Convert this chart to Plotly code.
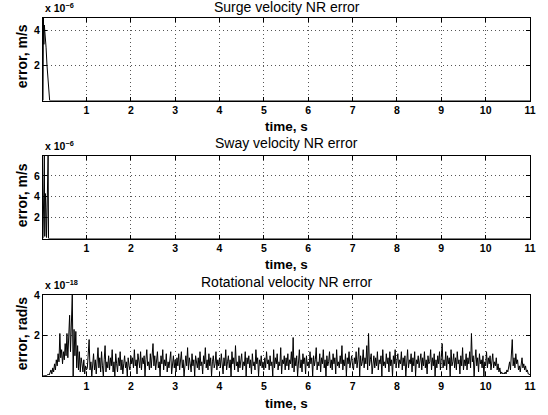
import numpy as np
import plotly.graph_objects as go

W, H = 548, 415
ML, MR, MT, MB = 43, 14, 18, 39
PW, PH = W - ML - MR, H - MT - MB

def px_x(p):
    return (p - ML) / PW

def px_y(p):
    return (H - MB - p) / PH

# ---------------- data ----------------
# Surge velocity NR error (units of 1e-6 m/s)
t1 = [0.02, 0.03, 0.04, 0.05, 0.07, 0.09, 0.11, 0.13, 0.15, 0.17, 11.0]
e1 = [0.0, 4.7, 3.2, 4.3, 3.8, 3.0, 2.0, 1.1, 0.4, 0.0, 0.0]

# Sway velocity NR error (units of 1e-6 m/s)
t2 = [0.02, 0.05, 0.06, 0.075, 0.085, 0.10, 0.135, 0.145, 11.0]
e2 = [0.0, 7.9, 0.2, 4.3, 3.0, 0.1, 7.9, 0.0, 0.0]

# Rotational velocity NR error (units of 1e-18 rad/s), sampled every 0.02 s
dt3 = 0.02
e3 = [
    0, 0, 0, 0, 0.02, 0.05, 0.1, 0.05, 0.15, 0.3, 0.1, 0.4, 0.2, 0.6, 0.3, 0.8, 0.5, 1.1, 0.7, 2.1, 0.9, 1.3, 0.6, 1.2, 0.8,
    1.6, 1.0, 2.1, 0.9, 1.8, 3.0, 1.2, 2.2, 4.0, 0.0, 2.3, 1.0, 2.2, 0.4, 1.5, 0.3, 1.2, 0.2, 0.9, 0.6, 0.2, 0.8, 0.1, 0.5, 0.3,
    0.4, 0.9, 1.8, 0.3, 0.7, 0.0, 0.5, 1.1, 0.3, 0.8, 0.1, 0.6, 1.4, 0.4, 0.9, 0.2, 1.2, 0.5, 0.0, 0.8, 1.5, 0.2, 0.7, 0.4, 1.0,
    0.3, 0.9, 0.5, 1.3, 0.2, 0.7, 0.0, 1.1, 0.6, 0.2, 0.9, 0.5, 1.2, 0.3, 0.8, 0.1, 0.6, 1.0, 0.4, 0.7, 0.0, 0.9, 0.5, 0.3, 1.0,
    0.6, 0.9, 0.4, 1.3, 0.5, 0.8, 0.1, 1.1, 0.7, 0.4, 1.2, 0.3, 0.9, 0.6, 1.0, 0.0, 0.8, 1.3, 0.5, 0.7, 0.3, 1.1, 0.4, 0.9, 1.6,
    0.5, 1.0, 0.3, 0.8, 1.2, 0.4, 0.7, 0.0, 1.0, 0.6, 1.3, 0.3, 0.8, 0.5, 1.1, 0.2, 0.7, 0.4, 0.9, 1.2, 0.1, 0.6, 1.0, 0.4, 0.8,
    0.2, 0.9, 0.5, 1.1, 0.3, 0.7, 1.2, 0.4, 0.8, 0.0, 0.6, 1.0, 0.5, 1.4, 0.3, 0.9, 0.6, 0.2, 1.1, 0.5, 0.8, 0.0, 1.0, 0.6, 0.4,
    0.9, 0.3, 1.2, 0.5, 0.7, 0.1, 1.0, 0.6, 1.4, 0.4, 0.8, 0.3, 1.1, 0.5, 0.9, 0.0, 0.7, 1.0, 0.4, 0.6, 1.2, 0.3, 0.8, 0.5, 0.9,
    0.4, 1.1, 0.6, 0.1, 0.9, 0.5, 1.3, 0.3, 0.7, 1.0, 0.4, 0.8, 0.0, 1.2, 0.6, 0.9, 0.3, 1.5, 0.5, 0.7, 0.2, 1.0, 0.4, 0.8, 1.1,
    0.3, 0.7, 0.5, 1.2, 0.0, 0.9, 0.6, 1.0, 0.4, 0.8, 0.1, 1.1, 0.5, 0.7, 0.3, 1.3, 0.6, 0.9, 0.0, 0.8, 0.5, 1.0, 0.4, 0.7, 0.3,
    0.9, 0.4, 1.2, 0.6, 0.8, 0.3, 1.0, 0.5, 0.7, 0.0, 1.3, 0.4, 0.9, 0.6, 1.1, 0.3, 0.7, 0.5, 1.4, 0.1, 0.8, 0.6, 1.0, 0.3, 0.9,
    0.5, 1.1, 0.3, 0.8, 0.6, 1.2, 0.4, 1.9, 0.2, 0.9, 0.5, 1.0, 0.0, 0.7, 1.3, 0.4, 0.8, 0.2, 1.1, 0.6, 0.9, 0.1, 1.0, 0.5, 0.7,
    0.4, 1.2, 0.6, 0.9, 0.0, 1.0, 0.5, 0.8, 1.4, 0.3, 0.7, 0.5, 1.1, 0.2, 0.9, 0.6, 1.3, 0.4, 0.8, 0.0, 1.0, 0.5, 0.7, 1.2, 0.4,
    0.8, 0.3, 1.1, 0.6, 0.9, 0.1, 1.3, 0.5, 0.7, 0.4, 1.0, 0.6, 1.5, 0.3, 0.8, 0.5, 1.1, 0.0, 0.9, 0.6, 1.2, 0.4, 0.7, 1.0, 0.5,
    0.3, 0.9, 0.6, 1.2, 0.4, 0.8, 1.4, 0.0, 1.0, 0.5, 0.7, 1.3, 0.4, 0.9, 0.6, 1.5, 0.3, 2.1, 0.5, 0.8, 1.1, 0.1, 0.7, 1.0, 0.4,
    0.9, 0.5, 1.2, 0.3, 0.8, 0.6, 1.0, 0.0, 1.3, 0.5, 0.7, 0.4, 1.1, 0.6, 0.9, 0.2, 1.2, 0.5, 0.8, 0.0, 1.0, 0.6, 1.3, 0.4, 0.7,
    1.1, 0.4, 0.8, 0.6, 1.2, 0.3, 0.9, 0.5, 1.0, 0.0, 0.7, 1.3, 0.4, 0.8, 0.6, 1.1, 0.2, 0.9, 0.5, 1.2, 0.0, 0.8, 0.6, 1.0, 0.4,
    0.7, 1.1, 0.3, 0.9, 0.5, 1.2, 0.4, 0.8, 0.1, 1.0, 0.6, 0.7, 1.3, 0.3, 0.9, 0.5, 1.1, 0.0, 0.8, 0.4, 1.0, 0.6, 1.2, 0.3, 0.9,
    1.6, 0.4, 0.8, 0.5, 1.2, 0.3, 1.0, 0.6, 0.9, 0.0, 1.3, 0.5, 0.7, 1.1, 0.4, 0.9, 0.3, 1.2, 0.6, 0.8, 0.1, 1.0, 0.5, 1.4, 0.3,
    0.8, 0.5, 1.1, 0.3, 0.9, 0.6, 1.2, 0.4, 2.1, 0.7, 1.0, 0.0, 0.8, 1.3, 0.5, 0.9, 0.2, 1.1, 0.6, 0.8, 0.4, 1.0, 0.0, 0.7, 0.5,
    1.2, 0.4, 0.9, 0.6, 1.0, 0.3, 0.8, 1.1, 0.4, 0.7, 0.5, 0.9, 0.3, 0.6, 0.2, 0.4, 0.1, 0.2, 0.1, 0.15, 0.1, 0.2, 0.1, 0.3, 0.2,
    0.4, 0.7, 0.3, 1.0, 1.8, 0.5, 0.9, 0.4, 1.1, 0.6, 0.8, 0.3, 0.5, 0.2, 0.7, 0.9, 0.4, 0.6, 0.3, 0.5, 0.2, 0.3, 0.1, 0.1, 0.05,
]
t3 = [dt3 * (i + 1) for i in range(len(e3))]

titles = ["Surge velocity NR error", "Sway velocity NR error", "Rotational velocity NR error"]
ylabels = ["error, m/s", "error, m/s", "error, rad/s"]
xlabel = "time, s"
exps = [-6, -6, -18]
yticks = [[2, 4], [2, 4, 6], [2, 4]]
ymax = [4.7, 7.9, 4.0]
xticks = list(range(1, 12))

# pixel boxes of the three axes (top, bottom)
boxes = [(18, 100.5), (156, 238.5), (295, 376)]

FONT = "Liberation Sans, Arial, Helvetica, sans-serif"

fig = go.Figure()
series = [(t1, e1), (t2, e2), (t3, e3)]
for i, (t, e) in enumerate(series):
    scale = 10.0 ** exps[i]
    sfx = "" if i == 0 else str(i + 1)
    fig.add_trace(go.Scatter(
        x=t, y=[v * scale for v in e], mode="lines",
        line=dict(color="black", width=1),
        xaxis="x" + sfx, yaxis="y" + sfx, showlegend=False, hoverinfo="skip",
    ))
    top, bot = boxes[i]
    axcommon = dict(
        showline=True, linecolor="black", linewidth=1, mirror="ticks",
        ticks="inside", ticklen=4, tickcolor="black", tickwidth=1,
        showgrid=True, gridcolor="#555555", griddash="1px,3px", gridwidth=1,
        zeroline=False,
        tickfont=dict(family=FONT, size=10.5, color="black", weight="bold"),
    )
    fig.layout["xaxis" + sfx] = dict(
        axcommon, domain=[0, 1], range=[0.02, 11.0],
        tickvals=xticks, ticktext=[str(v) for v in xticks],
        anchor="y" + sfx,
    )
    fig.layout["yaxis" + sfx] = dict(
        axcommon, domain=[px_y(bot), px_y(top)], range=[0, ymax[i] * scale],
        tickvals=[v * scale for v in yticks[i]], ticktext=[str(v) for v in yticks[i]],
        anchor="x" + sfx,
    )

annotations = []
title_y = [7, 143, 282]
xlabel_y = [126, 264, 403]
ylabel_y = [56, 195, 334]
exp_bottom = [16, 154, 293]
for i in range(3):
    annotations.append(dict(
        text=titles[i], x=px_x(288.5), y=px_y(title_y[i]), xref="paper", yref="paper",
        xanchor="center", yanchor="middle", showarrow=False,
        font=dict(family=FONT, size=14, color="black"),
    ))
    annotations.append(dict(
        text=xlabel, x=px_x(288.5), y=px_y(xlabel_y[i]), xref="paper", yref="paper",
        xanchor="center", yanchor="middle", showarrow=False,
        font=dict(family=FONT, size=13.5, color="black", weight="bold"),
    ))
    annotations.append(dict(
        text=ylabels[i], x=px_x(22), y=px_y(ylabel_y[i]), xref="paper", yref="paper",
        xanchor="center", yanchor="middle", showarrow=False, textangle=-90,
        font=dict(family=FONT, size=14, color="black", weight="bold"),
    ))
    annotations.append(dict(
        text="x 10<sup>\u2212%d</sup>" % (-exps[i]), x=px_x(43), y=px_y(exp_bottom[i]),
        xref="paper", yref="paper", xanchor="left", yanchor="bottom", showarrow=False,
        font=dict(family=FONT, size=10.5, color="black", weight="bold"),
    ))

fig.update_layout(
    width=W, height=H,
    margin=dict(l=ML, r=MR, t=MT, b=MB),
    paper_bgcolor="white", plot_bgcolor="white",
    annotations=annotations,
    showlegend=False,
)

fig.write_html("out.html")
